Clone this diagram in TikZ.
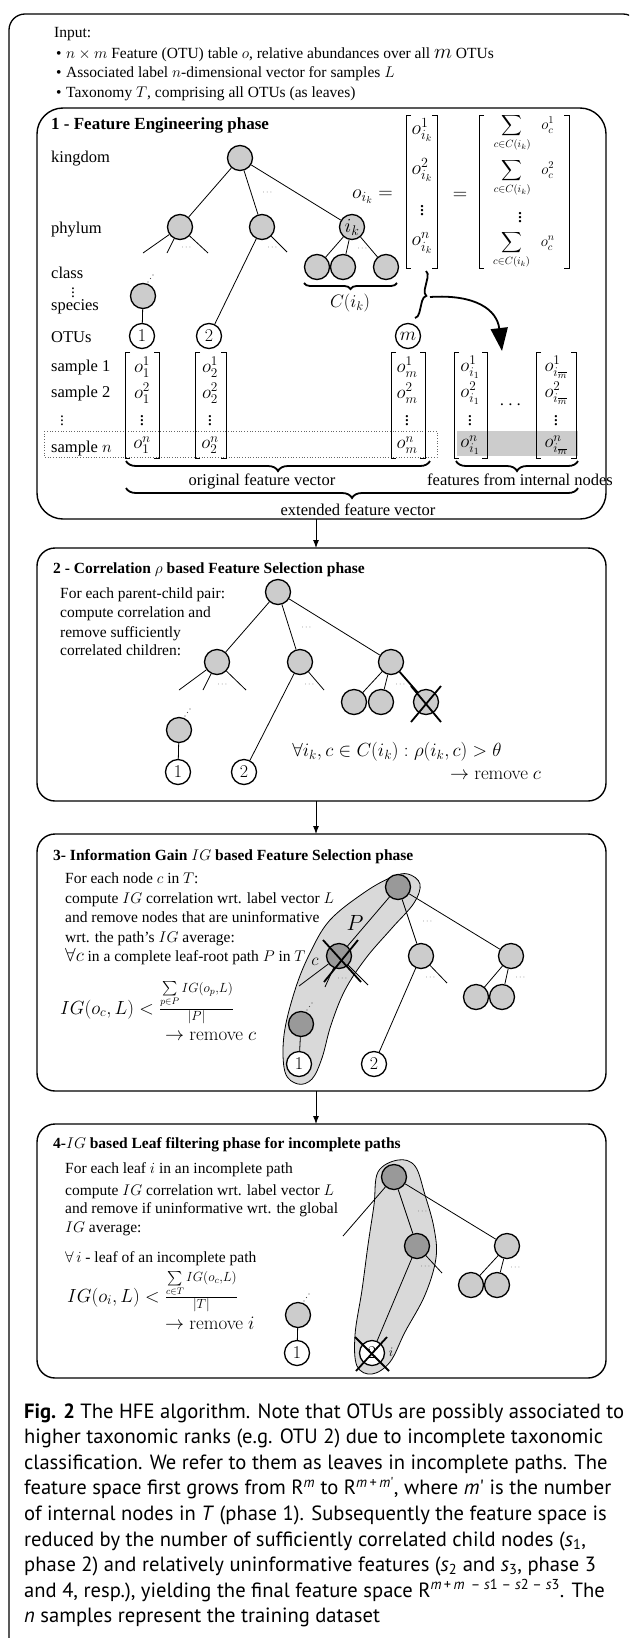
\RequirePackage{fix-cm}
\documentclass[tikz,border=0pt]{standalone}
\usepackage{amsmath}
\usepackage[no-math]{fontspec}
\setmainfont{Liberation Serif}
\newfontfamily\capfont{PT Sans}
\usetikzlibrary{arrows.meta,decorations.pathreplacing}
\definecolor{lnode}{gray}{0.80}
\definecolor{dnode}{gray}{0.60}
\definecolor{blobc}{gray}{0.85}
\definecolor{shadec}{gray}{0.80}
\newcommand\txt{\fontsize{15.5}{18}\selectfont}
\newcommand\ltxt{\fontsize{16.5}{19}\selectfont}
\newcommand\mtxt{\fontsize{20}{22}\selectfont}
\newcommand\stxt{\fontsize{15}{17}\selectfont}
\newcommand\vtxt{\fontsize{19}{21}\selectfont}
\newcommand\bigtxt{\fontsize{19}{22}\selectfont}
\newcommand\captxt{\fontsize{20.6}{25.6}\selectfont\capfont}
\newcommand\colvec[5]{%
 \node[vent] (#1-1) at (#2,367) {$o^{1}_{#5}$};
 \node[vent] (#1-2) at (#2,393) {$o^{2}_{#5}$};
 \node[vent] (#1-3) at (#2,418) {$\vdots$};
 \node[vent] (#1-4) at (#2,445) {$o^{n}_{#5}$};
 \draw[brk] (#3+5,352) -- (#3,352) -- (#3,458) -- (#3+5,458);
 \draw[brk] (#4-5,352) -- (#4,352) -- (#4,458) -- (#4-5,458);
}
\tikzset{
 box/.style={draw, line width=1.4pt, rounded corners=18pt},
 tn/.style={circle, draw, line width=1.3pt, fill=lnode, minimum size=25pt, inner sep=0pt},
 dn/.style={tn, fill=dnode},
 on/.style={circle, draw, line width=1.3pt, fill=white, minimum size=25pt, inner sep=0pt, font=\fontsize{18}{18}\selectfont},
 ed/.style={line width=0.8pt},
 dts/.style={font=\fontsize{8}{8}\selectfont, inner sep=0pt, text=black!75},
 lb/.style={anchor=base west, inner sep=0pt, font=\txt},
 crs/.style={line width=1.8pt},
 brk/.style={line width=0.9pt},
 brc/.style={decorate, decoration={brace, amplitude=#1}, line width=1.8pt},
 ent/.style={inner sep=0pt, font=\txt},
 ment/.style={inner sep=0pt, font=\mtxt},
 sment/.style={inner sep=0pt, font=\stxt},
 vent/.style={inner sep=0pt, font=\vtxt},
 flow/.style={line width=0.9pt, -{Latex[length=8pt,width=6pt]}},
 tinydot/.style={fill=black!70},
}
\begin{document}
\begin{tikzpicture}[x=1pt,y=-1pt]
\useasboundingbox (0,0) rectangle (629,1638);
\begin{scope}
\clip (0,0) rectangle (629,1638);
\draw[line width=1.3pt, rounded corners=16pt] (9,14) rectangle (639,1720);
\end{scope}

% ---------------- Input
\node[lb] (inp) at (54,37) {Input:};
\node[lb] (bu1) at (56,58) {\textbullet};
\node[lb] (in1) at (66,58) {$n\times m$ Feature (OTU) table $o$, relative abundances over all {\fontsize{21}{21}\selectfont$m$} OTUs};
\node[lb] (bu2) at (56,77) {\textbullet};
\node[lb] (in2) at (66,77) {Associated label $n$-dimensional vector for samples $L$};
\node[lb] (bu3) at (56,97) {\textbullet};
\node[lb] (in3) at (66,97) {Taxonomy $T$, comprising all OTUs (as leaves)};

% ---------------- Phase 1
\draw[box, rounded corners=26pt] (37,108) rectangle (606,519);
\node[lb, font=\fontsize{17}{20}\selectfont] (t1) at (51,129) {\bfseries 1 - Feature Engineering phase};
\node[lb, font=\ltxt] (lk) at (51,162) {kingdom};
\node[lb, font=\ltxt] (lp) at (51,233) {phylum};
\node[lb, font=\ltxt] (lc) at (51,278) {class};
\node[ent] (lv1) at (73,290) {$\vdots$};
\node[lb, font=\ltxt] (ls) at (51,310) {species};
\node[lb, font=\ltxt] (lo) at (51,342) {OTUs};
\node[lb, font=\ltxt] (ls1) at (51,371) {sample 1};
\node[lb, font=\ltxt] (ls2) at (51,397) {sample 2};
\node[ent] (lv2) at (62,418) {$\vdots$};
\node[lb, font=\ltxt] (lsn) at (51,452) {sample $n$};

% shaded row and dotted box
\fill[shadec] (457,431) rectangle (578,456);
\draw[dotted, line width=0.7pt, black!60] (44,431) rectangle (437,457);

% tree
\coordinate (a1s1) at (143,253);
\coordinate (a1s2) at (167,253);
\coordinate (a1s3) at (208,253);
\coordinate (b1s1) at (287,252);
\node[tn] (R1) at (240,158) {};
\node[tn] (A1) at (180,227) {};
\node[tn] (B1) at (262,227) {};
\node[tn, font=\fontsize{20}{20}\selectfont] (K1) at (352,227) {$i_k$};
\node[tn] (K1a) at (317,267) {};
\node[tn] (K1b) at (343,267) {};
\node[tn] (K1c) at (386,267) {};
\node[tn] (S1) at (143,296) {};
\node[on] (O11) at (142,336) {$1$};
\node[on] (O12) at (209,336) {$2$};
\node[on, font=\fontsize{19}{19}\selectfont] (O1m) at (408,336) {$m$};
\draw[ed] (R1) -- (A1);
\draw[ed] (R1) -- (B1);
\draw[ed] (R1) -- (K1);
\draw[ed] (A1) -- (a1s1);
\draw[ed] (A1) -- (a1s2);
\draw[ed] (A1) -- (a1s3);
\draw[ed] (B1) -- (O12);
\draw[ed] (B1) -- (b1s1);
\draw[ed] (K1) -- (K1a);
\draw[ed] (K1) -- (K1b);
\draw[ed] (K1) -- (K1c);
\draw[ed] (S1) -- (O11);
\node[dts] (d11) at (268,193) {$\cdots$};
\node[dts] (d12) at (187,248) {$\cdots$};
\node[dts] (d13) at (273,248) {$\cdots$};
\node[dts] (d14) at (363,249) {$\cdots$};
\foreach \t in {0,1,2} \fill[tinydot] (148+2.5*\t,282-3.5*\t) circle (0.7pt);
\coordinate (cb1) at (397,283);
\coordinate (cb2) at (304,283);
\draw[brc=6pt] (cb1) -- (cb2);
\node[ment, font=\fontsize{18}{18}\selectfont] (cik) at (350,303) {$C(i_k)$};

% o_ik equation
\node[ment, anchor=east] (oik) at (393,197) {$o_{i_k}=$};
\draw[brk] (411,115) -- (406,115) -- (406,268) -- (411,268);
\draw[brk] (432,115) -- (437,115) -- (437,268) -- (432,268);
\node[ment] (e1) at (422,130) {$o^{1}_{i_k}$};
\node[ment] (e2) at (422,170) {$o^{2}_{i_k}$};
\node[ment] (e3) at (422,208) {$\vdots$};
\node[ment] (e4) at (422,243) {$o^{n}_{i_k}$};
\node[ment] (eq2) at (460,196) {$=$};
\draw[brk] (484,115) -- (479,115) -- (479,268) -- (484,268);
\draw[brk] (564,115) -- (569,115) -- (569,268) -- (564,268);
\node[sment] (f1) at (524,133) {$\displaystyle\sum_{c\in C(i_k)}\;\; o^{1}_{c}$};
\node[sment] (f2) at (524,178) {$\displaystyle\sum_{c\in C(i_k)}\;\; o^{2}_{c}$};
\node[ment] (f3) at (520,215) {$\vdots$};
\node[sment] (f4) at (524,250) {$\displaystyle\sum_{c\in C(i_k)}\;\; o^{n}_{c}$};
\coordinate (vb1) at (426,271);
\coordinate (vb2) at (415,318);
\draw[brc=6pt] (vb1) -- (vb2);
\coordinate (arS) at (430,297);
\coordinate (arE) at (502,351);
\draw[line width=1.8pt, -{Triangle[length=23pt,width=17pt]}] (arS) .. controls (476,294) and (497,310) .. (arE);

% vectors
\colvec{v1}{142}{125}{159}{1}
\colvec{v2}{210}{195}{226}{2}
\colvec{vm}{407}{391}{425}{m}
\colvec{vi}{470}{454}{487}{i_1}
\colvec{vj}{556}{536}{576}{i_{\overline{m}}}
\node[vent] (dv) at (512,405) {$\cdots$};

% braces
\coordinate (br1a) at (430,461);
\coordinate (br1b) at (126,461);
\draw[brc=10pt] (br1a) -- (br1b);
\coordinate (br2a) at (578,461);
\coordinate (br2b) at (456,461);
\draw[brc=10pt] (br2a) -- (br2b);
\coordinate (br3a) at (578,488);
\coordinate (br3b) at (126,488);
\draw[brc=10pt] (br3a) -- (br3b);
\node[ent, font=\ltxt] (of) at (262,481) {original feature vector};
\node[ent, font=\ltxt] (fi) at (520,480) {features from internal nodes};
\node[ent, font=\ltxt] (ex) at (358,510) {extended feature vector};

% arrows between phases
\coordinate (p1s) at (316,519);
\coordinate (p2n) at (316,548);
\coordinate (p2s) at (316,801);
\coordinate (p3n) at (316,834);
\coordinate (p3s) at (316,1091);
\coordinate (p4n) at (316,1124);
\draw[flow] (p1s) -- (p2n);
\draw[flow] (p2s) -- (p3n);
\draw[flow] (p3s) -- (p4n);

% ---------------- Phase 2
\draw[box] (37,548) rectangle (606,801);
\node[lb] (t2) at (53,573) {\bfseries 2 - Correlation $\rho$ based Feature Selection phase};
\node[lb] (p2l1) at (60,598) {For each parent-child pair:};
\node[lb] (p2l2) at (60,617) {compute correlation and};
\node[lb] (p2l3) at (60,637) {remove sufficiently};
\node[lb] (p2l4) at (60,655) {correlated children:};
\coordinate (a2s1) at (179,690);
\coordinate (a2s2) at (203,690);
\coordinate (a2s3) at (246,690);
\coordinate (b2s1) at (324,690);
\node[tn] (R2) at (278,592) {};
\node[tn] (A2) at (217,662) {};
\node[tn] (B2) at (300,662) {};
\node[tn] (C2) at (391,662) {};
\node[tn] (C2a) at (354,702) {};
\node[tn] (C2b) at (381,702) {};
\node[tn] (C2c) at (426,702) {};
\node[tn] (S2) at (179,730) {};
\node[on] (O21) at (178,772) {$1$};
\node[on] (O22) at (244,772) {$2$};
\draw[ed] (R2) -- (A2);
\draw[ed] (R2) -- (B2);
\draw[ed] (R2) -- (C2);
\draw[ed] (A2) -- (a2s1);
\draw[ed] (A2) -- (a2s2);
\draw[ed] (A2) -- (a2s3);
\draw[ed] (B2) -- (O22);
\draw[ed] (B2) -- (b2s1);
\draw[ed] (C2) -- (C2a);
\draw[ed] (C2) -- (C2b);
\draw[crs] (C2) -- (C2c);
\draw[ed] (S2) -- (O21);
\node[dts] (d21) at (307,628) {$\cdots$};
\node[dts] (d22) at (223,685) {$\cdots$};
\node[dts] (d23) at (310,685) {$\cdots$};
\node[dts] (d24) at (401,685) {$\cdots$};
\foreach \t in {0,1,2} \fill[tinydot] (185+2.5*\t,716-3.5*\t) circle (0.7pt);
\coordinate (x2a) at (411,686);
\coordinate (x2b) at (441,722);
\coordinate (x2c) at (441,686);
\coordinate (x2d) at (411,722);
\draw[crs] (x2a) -- (x2b);
\draw[crs] (x2c) -- (x2d);
\node[font=\bigtxt, inner sep=0pt] (fo2) at (397,752) {$\forall i_k, c\in C(i_k) : \rho(i_k,c) > \theta$};
\node[anchor=base east, inner sep=0pt, font=\bigtxt] (rm2) at (541,779) {$\rightarrow \mathrm{remove}\ c$};

% ---------------- Phase 3
\draw[box] (37,834) rectangle (606,1091);
\node[lb] (t3) at (53,860) {\bfseries 3- Information Gain $IG$ based Feature Selection phase};
\node[lb] (p3l1) at (65,883) {For each node $c$ in $T$:};
\node[lb] (p3l2) at (65,903) {compute $IG$ correlation wrt. label vector $L$};
\node[lb] (p3l3) at (65,922) {and remove nodes that are uninformative};
\node[lb] (p3l4) at (65,942) {wrt. the path's $IG$ average:};
\node[lb] (p3l5) at (65,961) {{\bigtxt$\forall c$} in a complete leaf-root path $P$ in $T$};
\fill[blobc, draw=black, line width=0.8pt] plot[smooth cycle, tension=0.6] coordinates {(408,874) (420,884) (414,903) (392,928) (366,958) (345,990) (331,1025) (322,1058) (312,1079) (298,1084) (285,1072) (284,1035) (295,990) (310,953) (330,920) (365,892) (392,877)};
\coordinate (c3s1) at (299,986);
\coordinate (c3s2) at (325,987);
\coordinate (c3s3) at (368,985);
\coordinate (b3s1) at (447,983);
\node[dn] (R3) at (398,887) {};
\node[dn] (P3) at (339,956) {};
\node[tn] (B3) at (421,956) {};
\node[tn] (C3) at (511,956) {};
\node[tn] (C3a) at (476,997) {};
\node[tn] (C3b) at (502,997) {};
\node[dn] (S3) at (301,1024) {};
\node[on] (O31) at (299,1064) {$1$};
\node[on] (O32) at (374,1064) {$2$};
\draw[ed] (R3) -- (P3);
\draw[ed] (R3) -- (B3);
\draw[ed] (R3) -- (C3);
\draw[ed] (P3) -- (c3s1);
\draw[ed] (P3) -- (c3s2);
\draw[ed] (P3) -- (c3s3);
\draw[ed] (B3) -- (O32);
\draw[ed] (B3) -- (b3s1);
\draw[ed] (C3) -- (C3a);
\draw[ed] (C3) -- (C3b);
\draw[ed] (S3) -- (O31);
\node[dts] (d31) at (428,922) {$\cdots$};
\node[dts] (d32) at (343,979) {$\cdots$};
\node[dts] (d33) at (431,978) {$\cdots$};
\node[dts] (d34) at (521,978) {$\cdots$};
\foreach \t in {0,1,2} \fill[tinydot] (307+2.5*\t,1010-3.5*\t) circle (0.7pt);
\coordinate (x3a) at (323,940);
\coordinate (x3b) at (361,982);
\coordinate (x3c) at (358,940);
\coordinate (x3d) at (324,982);
\draw[crs] (x3a) -- (x3b);
\draw[crs] (x3c) -- (x3d);
\node[ent, font=\fontsize{17}{17}\selectfont] (lc3) at (315,962) {$c$};
\node[ent, font=\fontsize{22}{22}\selectfont] (lP3) at (355,923) {$P$};
\node[anchor=base west, inner sep=0pt, font=\bigtxt] (fo3) at (60,1014) {$IG(o_c,L) < {\textstyle\frac{\sum\limits_{p\in P} IG(o_p,L)}{|P|}}$};
\node[anchor=base west, inner sep=0pt, font=\bigtxt] (rm3) at (165,1040) {$\rightarrow \mathrm{remove}\ c$};

% ---------------- Phase 4
\draw[box] (37,1124) rectangle (606,1378);
\node[lb] (t4) at (53,1148) {\bfseries 4-$IG$ based Leaf filtering phase for incomplete paths};
\node[lb] (p4l1) at (65,1173) {For each leaf $i$ in an incomplete path};
\node[lb] (p4l2) at (65,1195) {compute $IG$ correlation wrt. label vector $L$};
\node[lb] (p4l3) at (65,1213) {and remove if uninformative wrt. the global};
\node[lb] (p4l4) at (65,1232) {$IG$ average:};
\node[lb] (p4l5) at (65,1262) {$\forall\, i$ - leaf of an incomplete path};
\fill[blobc, draw=black, line width=0.8pt] plot[smooth cycle, tension=0.6] coordinates {(398,1160) (415,1166) (425,1195) (434,1228) (436,1258) (425,1295) (405,1332) (390,1362) (372,1374) (357,1366) (355,1335) (362,1290) (368,1245) (374,1205) (378,1172)};
\coordinate (r4s1) at (343,1236);
\coordinate (d4s1) at (442,1273);
\node[dn] (R4) at (394,1177) {};
\node[dn] (D4) at (417,1246) {};
\node[tn] (E4) at (507,1246) {};
\node[tn] (E4a) at (471,1285) {};
\node[tn] (E4b) at (497,1285) {};
\node[tn] (S4) at (298,1315) {};
\node[on] (O41) at (297,1353) {$1$};
\node[on] (L4) at (372,1353) {$2$};
\draw[ed] (R4) -- (r4s1);
\draw[ed] (R4) -- (D4);
\draw[ed] (R4) -- (E4);
\draw[ed] (D4) -- (L4);
\draw[ed] (D4) -- (d4s1);
\draw[ed] (E4) -- (E4a);
\draw[ed] (E4) -- (E4b);
\draw[ed] (S4) -- (O41);
\node[dts] (d41) at (423,1212) {$\cdots$};
\node[dts] (d42) at (426,1267) {$\cdots$};
\node[dts] (d43) at (516,1268) {$\cdots$};
\foreach \t in {0,1,2} \fill[tinydot] (304+2.5*\t,1301-3.5*\t) circle (0.7pt);
\coordinate (x4a) at (355,1337);
\coordinate (x4b) at (389,1371);
\coordinate (x4c) at (387,1337);
\coordinate (x4d) at (356,1371);
\draw[crs] (x4a) -- (x4b);
\draw[crs] (x4c) -- (x4d);
\node[ent, font=\fontsize{13}{13}\selectfont] (li4) at (391,1352) {$i$};
\node[anchor=base west, inner sep=0pt, font=\bigtxt] (fo4) at (67,1302) {$IG(o_i,L) < {\textstyle\frac{\sum\limits_{c\in T} IG(o_c,L)}{|T|}}$};
\node[anchor=base west, inner sep=0pt, font=\bigtxt] (rm4) at (165,1329) {$\rightarrow \mathrm{remove}\ i$};

% ---------------- Caption
\node[anchor=base west, inner sep=0pt, font=\captxt] (cap1) at (24,1418) {\textbf{Fig. 2} The HFE algorithm. Note that OTUs are possibly associated to};
\node[anchor=base west, inner sep=0pt, font=\captxt] (cap2) at (24,1443.6) {higher taxonomic ranks (e.g. OTU 2) due to incomplete taxonomic};
\node[anchor=base west, inner sep=0pt, font=\captxt] (cap3) at (24,1469.2) {classification. We refer to them as leaves in incomplete paths. The};
\node[anchor=base west, inner sep=0pt, font=\captxt] (cap4) at (24,1494.8) {feature space first grows from R\textsuperscript{\textit{m}} to R\textsuperscript{\textit{m}\,+\,\textit{m}'}, where \textit{m}' is the number};
\node[anchor=base west, inner sep=0pt, font=\captxt] (cap5) at (24,1520.4) {of internal nodes in \textit{T} (phase 1). Subsequently the feature space is};
\node[anchor=base west, inner sep=0pt, font=\captxt] (cap6) at (24,1546) {reduced by the number of sufficiently correlated child nodes (\textit{s}\textsubscript{1},};
\node[anchor=base west, inner sep=0pt, font=\captxt] (cap7) at (24,1571.6) {phase 2) and relatively uninformative features (\textit{s}\textsubscript{2} and \textit{s}\textsubscript{3}, phase 3};
\node[anchor=base west, inner sep=0pt, font=\captxt] (cap8) at (24,1597.2) {and 4, resp.), yielding the final feature space R\textsuperscript{\textit{m}\,+\,\textit{m}\, – \textit{s}1 – \textit{s}2 – \textit{s}3}. The};
\node[anchor=base west, inner sep=0pt, font=\captxt] (cap9) at (24,1622.8) {\textit{n} samples represent the training dataset};
\end{tikzpicture}
\end{document}
